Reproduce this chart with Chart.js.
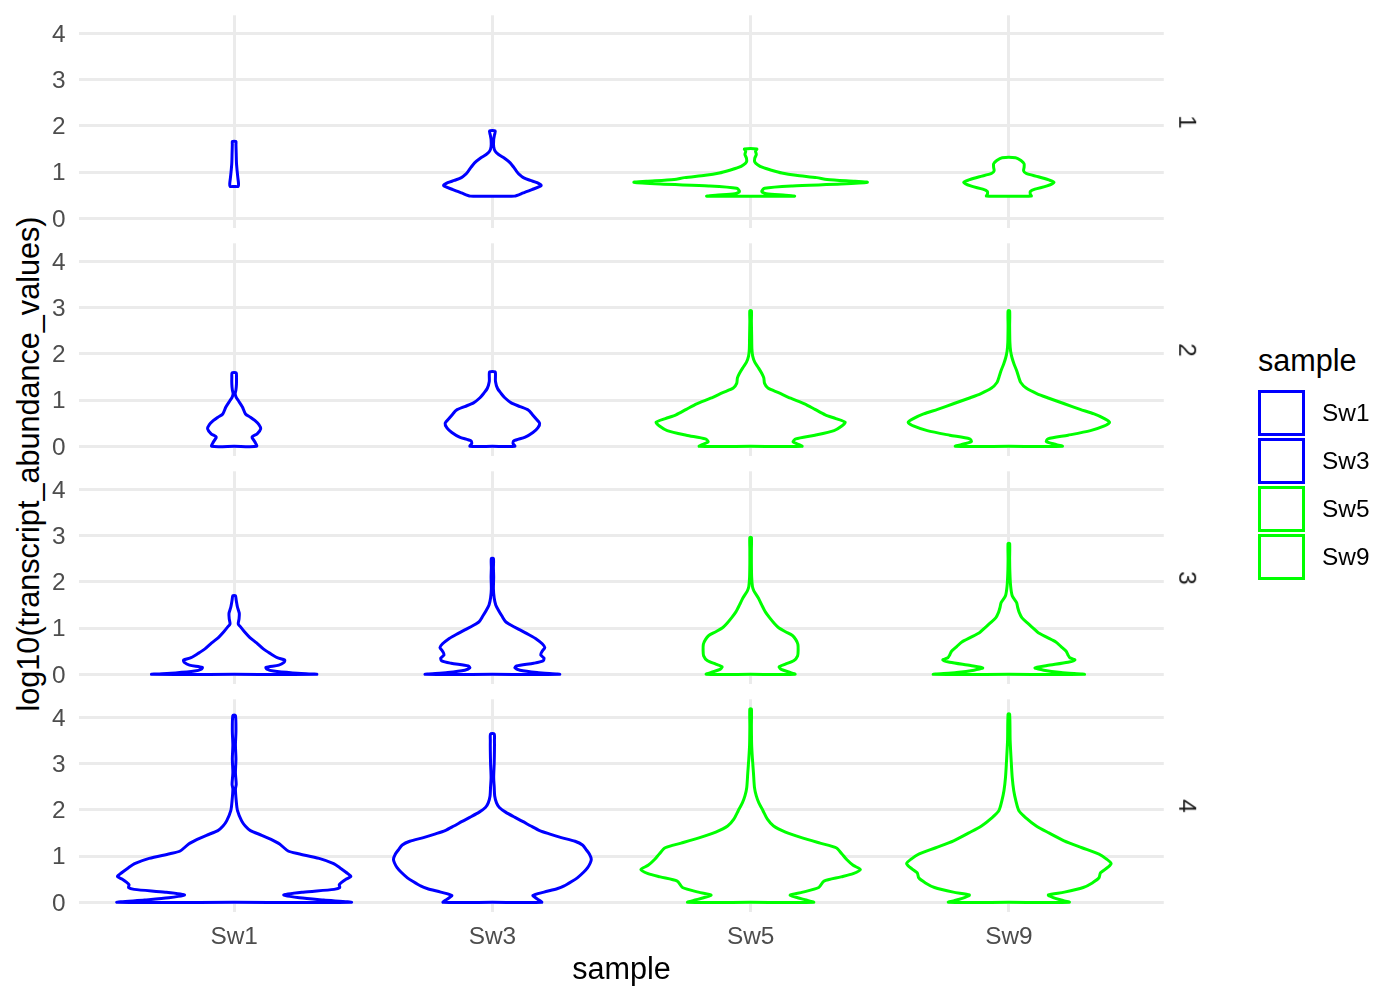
<!DOCTYPE html>
<html>
<head>
<meta charset="utf-8">
<title>violin</title>
<script src="https://cdn.jsdelivr.net/npm/chart.js@4.4.1/dist/chart.umd.min.js"></script>
<style>
  html, body { margin: 0; padding: 0; background: #fff; }
  body { width: 1400px; height: 1000px; position: relative; overflow: hidden; font-family: "Liberation Sans", Arial, sans-serif; }
  .panel { position: absolute; left: 0; width: 1400px; }
  .strip { position: absolute; left: 1187px; transform: translate(-50%, -50%) rotate(90deg); font-size: 24.4px; color: #1a1a1a; line-height: 1; }
  #ytitle { position: absolute; left: 28px; top: 463.6px; transform: translate(-50%, -50%) rotate(-90deg); font-size: 30.6px; white-space: nowrap; line-height: 1; }
  #legtitle { position: absolute; left: 1258px; top: 345px; font-size: 30.6px; line-height: 1; }
  .key { position: absolute; left: 1258px; width: 47px; height: 46px; box-sizing: border-box; border: 3px solid; background: #fff; }
  .keylab { position: absolute; left: 1322px; font-size: 24.4px; line-height: 1; transform: translateY(-50%); }
</style>
</head>
<body>
<div id="ytitle">log10(transcript_abundance_values)</div>
<div id="legtitle">sample</div>
<script>
// kategori sumbu x dan label facet
const categories = ['Sw1', 'Sw3', 'Sw5', 'Sw9'];
const facets = ['1', '2', '3', '4'];
const yMajor = [0, 1, 2, 3, 4];
const sampleColors = ['#0000FF', '#0000FF', '#00FF00', '#00FF00'];

// profil violin: y = log10 nilai, w = setengah lebar (satuan sumbu x)
// facet 1
const p1Sw1Y = [0.69, 0.75, 0.85, 1.0, 1.2, 1.4, 1.6, 1.66];
const p1Sw1W = [0.016, 0.017, 0.015, 0.012, 0.009, 0.008, 0.007, 0.007];
const p1Sw3Y = [0.48, 0.55, 0.62, 0.71, 0.77, 0.82, 0.88, 0.95, 1.0, 1.1, 1.2, 1.3, 1.38, 1.45, 1.55, 1.7, 1.8, 1.89];
const p1Sw3W = [0.085, 0.12, 0.153, 0.189, 0.173, 0.147, 0.12, 0.104, 0.096, 0.083, 0.069, 0.047, 0.024, 0.011, 0.005, 0.005, 0.008, 0.011];
const p1Sw5Y = [0.48, 0.50, 0.53, 0.58, 0.65, 0.70, 0.74, 0.78, 0.80, 0.84, 0.88, 0.93, 0.98, 1.04, 1.10, 1.16, 1.22, 1.30, 1.38, 1.45, 1.50];
const p1Sw5W = [0.17, 0.135, 0.061, 0.043, 0.054, 0.162, 0.35, 0.452, 0.404, 0.296, 0.256, 0.175, 0.121, 0.081, 0.047, 0.027, 0.016, 0.016, 0.022, 0.019, 0.024];
const p1Sw9Y = [0.48, 0.52, 0.58, 0.63, 0.70, 0.78, 0.83, 0.90, 0.97, 1.03, 1.10, 1.18, 1.25, 1.31];
const p1Sw9W = [0.087, 0.083, 0.083, 0.101, 0.148, 0.175, 0.155, 0.114, 0.067, 0.057, 0.059, 0.059, 0.047, 0.026];
// facet 2
const p2Sw1Y = [0, 0.1, 0.2, 0.27, 0.38, 0.47, 0.56, 0.63, 0.70, 0.85, 0.99, 1.06, 1.14, 1.22, 1.35, 1.5, 1.59];
const p2Sw1W = [0.087, 0.08, 0.069, 0.089, 0.103, 0.096, 0.08, 0.063, 0.044, 0.032, 0.016, 0.008, 0.004, 0.007, 0.009, 0.009, 0.008];
const p2Sw3Y = [0, 0.06, 0.12, 0.20, 0.30, 0.40, 0.50, 0.60, 0.70, 0.78, 0.86, 0.94, 1.05, 1.15, 1.25, 1.40, 1.55, 1.61];
const p2Sw3W = [0.087, 0.08, 0.083, 0.127, 0.157, 0.176, 0.183, 0.168, 0.153, 0.14, 0.107, 0.073, 0.048, 0.033, 0.02, 0.012, 0.012, 0.011];
const p2Sw5Y = [0, 0.05, 0.10, 0.16, 0.24, 0.34, 0.44, 0.52, 0.60, 0.68, 0.80, 0.92, 1.04, 1.16, 1.26, 1.36, 1.48, 1.58, 1.70, 1.82, 1.95, 2.10, 2.40, 2.70, 2.93];
const p2Sw5W = [0.199, 0.182, 0.164, 0.175, 0.249, 0.323, 0.353, 0.366, 0.33, 0.289, 0.249, 0.209, 0.155, 0.108, 0.067, 0.054, 0.051, 0.043, 0.03, 0.016, 0.008, 0.005, 0.004, 0.003, 0.003];
const p2Sw9Y = [0, 0.05, 0.10, 0.16, 0.24, 0.34, 0.44, 0.52, 0.60, 0.70, 0.80, 0.92, 1.04, 1.14, 1.26, 1.38, 1.50, 1.64, 1.78, 1.92, 2.05, 2.25, 2.60, 2.93];
const p2Sw9W = [0.207, 0.175, 0.145, 0.151, 0.229, 0.316, 0.37, 0.39, 0.37, 0.33, 0.276, 0.215, 0.155, 0.108, 0.067, 0.046, 0.038, 0.03, 0.02, 0.012, 0.007, 0.004, 0.003, 0.003];
// facet 3
const p3Sw1Y = [0, 0.03, 0.07, 0.11, 0.15, 0.20, 0.26, 0.31, 0.36, 0.45, 0.55, 0.68, 0.80, 0.92, 1.03, 1.09, 1.20, 1.32, 1.45, 1.60, 1.70];
const p3Sw1W = [0.319, 0.227, 0.153, 0.127, 0.123, 0.173, 0.193, 0.196, 0.167, 0.14, 0.113, 0.087, 0.06, 0.04, 0.024, 0.016, 0.019, 0.02, 0.013, 0.008, 0.005];
const p3Sw3Y = [0, 0.04, 0.09, 0.14, 0.18, 0.24, 0.29, 0.35, 0.42, 0.50, 0.58, 0.66, 0.76, 0.86, 0.96, 1.06, 1.14, 1.26, 1.38, 1.50, 1.65, 1.85, 2.10, 2.30, 2.50];
const p3Sw3W = [0.26, 0.173, 0.107, 0.087, 0.093, 0.16, 0.196, 0.2, 0.187, 0.193, 0.203, 0.193, 0.171, 0.14, 0.107, 0.073, 0.051, 0.037, 0.024, 0.013, 0.007, 0.004, 0.005, 0.004, 0.004];
const p3Sw5Y = [0, 0.05, 0.10, 0.16, 0.22, 0.30, 0.40, 0.52, 0.65, 0.75, 0.84, 0.92, 1.00, 1.10, 1.22, 1.35, 1.50, 1.65, 1.80, 1.90, 2.10, 2.40, 2.70, 2.96];
const p3Sw5W = [0.172, 0.148, 0.121, 0.11, 0.135, 0.168, 0.182, 0.184, 0.183, 0.175, 0.162, 0.135, 0.11, 0.092, 0.074, 0.057, 0.043, 0.03, 0.013, 0.007, 0.004, 0.003, 0.003, 0.003];
const p3Sw9Y = [0, 0.04, 0.09, 0.14, 0.19, 0.26, 0.31, 0.36, 0.42, 0.50, 0.60, 0.70, 0.80, 0.90, 1.00, 1.10, 1.22, 1.34, 1.45, 1.55, 1.70, 1.90, 2.20, 2.50, 2.83];
const p3Sw9W = [0.292, 0.202, 0.135, 0.101, 0.148, 0.229, 0.256, 0.236, 0.229, 0.222, 0.202, 0.182, 0.148, 0.114, 0.094, 0.074, 0.051, 0.04, 0.034, 0.03, 0.013, 0.007, 0.004, 0.003, 0.003];
// facet 4
const p4Sw1Y = [0, 0.05, 0.10, 0.16, 0.22, 0.28, 0.32, 0.38, 0.43, 0.50, 0.56, 0.65, 0.75, 0.84, 0.95, 1.05, 1.11, 1.26, 1.36, 1.45, 1.55, 1.65, 1.76, 1.98, 2.20, 2.45, 2.55, 2.80, 3.10, 3.40, 3.70, 4.04];
const p4Sw1W = [0.453, 0.347, 0.253, 0.192, 0.267, 0.387, 0.409, 0.407, 0.416, 0.433, 0.452, 0.433, 0.409, 0.383, 0.329, 0.249, 0.209, 0.176, 0.143, 0.107, 0.063, 0.043, 0.029, 0.013, 0.008, 0.005, 0.008, 0.005, 0.007, 0.005, 0.007, 0.005];
const p4Sw3Y = [0, 0.05, 0.10, 0.15, 0.22, 0.30, 0.35, 0.45, 0.53, 0.65, 0.75, 0.85, 0.93, 1.04, 1.14, 1.24, 1.32, 1.40, 1.48, 1.55, 1.65, 1.75, 1.85, 1.95, 2.05, 2.15, 2.30, 2.50, 2.70, 3.00, 3.30, 3.50, 3.64];
const p4Sw3W = [0.191, 0.18, 0.167, 0.157, 0.2, 0.253, 0.276, 0.307, 0.329, 0.353, 0.369, 0.379, 0.383, 0.376, 0.363, 0.349, 0.32, 0.267, 0.22, 0.183, 0.149, 0.117, 0.083, 0.051, 0.027, 0.016, 0.009, 0.007, 0.005, 0.007, 0.008, 0.008, 0.007];
const p4Sw5Y = [0, 0.05, 0.10, 0.16, 0.22, 0.32, 0.46, 0.55, 0.62, 0.71, 0.80, 0.93, 1.05, 1.18, 1.28, 1.40, 1.52, 1.65, 1.80, 1.98, 2.15, 2.30, 2.48, 2.80, 3.10, 3.40, 3.80, 4.18];
const p4Sw5W = [0.244, 0.215, 0.182, 0.153, 0.202, 0.264, 0.284, 0.35, 0.397, 0.425, 0.397, 0.371, 0.353, 0.331, 0.269, 0.197, 0.135, 0.089, 0.065, 0.048, 0.032, 0.022, 0.015, 0.011, 0.007, 0.004, 0.003, 0.003];
const p4Sw9Y = [0, 0.05, 0.10, 0.16, 0.22, 0.32, 0.42, 0.53, 0.64, 0.76, 0.84, 0.94, 1.04, 1.18, 1.33, 1.50, 1.65, 1.82, 1.98, 2.20, 2.41, 2.70, 3.06, 3.50, 4.07];
const p4Sw9W = [0.234, 0.202, 0.172, 0.153, 0.215, 0.288, 0.323, 0.349, 0.355, 0.384, 0.396, 0.377, 0.349, 0.283, 0.214, 0.155, 0.106, 0.067, 0.039, 0.027, 0.019, 0.013, 0.009, 0.005, 0.003];

const violinTable = [
    [[p1Sw1Y, p1Sw1W], [p1Sw3Y, p1Sw3W], [p1Sw5Y, p1Sw5W], [p1Sw9Y, p1Sw9W]],
    [[p2Sw1Y, p2Sw1W], [p2Sw3Y, p2Sw3W], [p2Sw5Y, p2Sw5W], [p2Sw9Y, p2Sw9W]],
    [[p3Sw1Y, p3Sw1W], [p3Sw3Y, p3Sw3W], [p3Sw5Y, p3Sw5W], [p3Sw9Y, p3Sw9W]],
    [[p4Sw1Y, p4Sw1W], [p4Sw3Y, p4Sw3W], [p4Sw5Y, p4Sw5W], [p4Sw9Y, p4Sw9W]],
];

const fontFamily = '"Liberation Sans", Arial, sans-serif';

// garis tepi violin: dasar -> sisi kanan naik -> sisi kiri turun
function outline(center, ys, ws) {
    const right = ys.map((y, i) => ({ x: center + ws[i], y: y }));
    const left = ys.map((y, i) => ({ x: center - ws[i], y: y })).reverse();
    return [{ x: center, y: ys[0] }, ...right, ...left, { x: center, y: ys[0] }];
}

function buatPanel(idx) {
    const isLast = idx === facets.length - 1;
    const top = 228 * idx - 25;
    const height = isLast ? 1000 - top : 300;

    const box = document.createElement('div');
    box.className = 'panel';
    box.style.top = top + 'px';
    box.style.height = height + 'px';
    const canvas = document.createElement('canvas');
    box.appendChild(canvas);
    document.body.appendChild(box);

    const strip = document.createElement('div');
    strip.className = 'strip';
    strip.style.top = (121.7 + 228 * idx) + 'px';
    strip.textContent = facets[idx];
    document.body.appendChild(strip);

    new Chart(canvas.getContext('2d'), {
        type: 'scatter',
        data: {
            datasets: categories.map((c, j) => ({
                label: c,
                data: outline(j + 1, violinTable[idx][j][0], violinTable[idx][j][1]),
                showLine: true,
                pointRadius: 0,
                borderColor: sampleColors[j],
                borderWidth: 3,
                borderJoinStyle: 'round',
                backgroundColor: '#FFFFFF',
                fill: 'shape',
                tension: 0.25
            }))
        },
        options: {
            responsive: true,
            maintainAspectRatio: false,
            animation: false,
            events: [],
            layout: { padding: { left: 0, right: 236.2, top: 40.3, bottom: isLast ? 0 : 47 } },
            plugins: { legend: { display: false }, tooltip: { enabled: false } },
            scales: {
                x: {
                    type: 'linear',
                    min: 0.4,
                    max: 4.6,
                    afterBuildTicks: s => { s.ticks = categories.map((c, i) => ({ value: i + 1 })); },
                    afterFit: s => { s.height = isLast ? 88 : 0; },
                    grid: { color: '#EBEBEB', lineWidth: 3, drawTicks: false },
                    border: { display: false },
                    ticks: {
                        display: isLast,
                        autoSkip: false,
                        maxRotation: 0,
                        padding: 10.6,
                        color: '#4D4D4D',
                        font: { size: 24.4, family: fontFamily },
                        callback: v => categories[Math.round(v) - 1] || ''
                    },
                    title: {
                        display: isLast,
                        text: 'sample',
                        color: '#000000',
                        font: { size: 30.6, family: fontFamily },
                        padding: { top: 0, bottom: 10.6 }
                    }
                },
                y: {
                    min: -0.209,
                    max: 4.389,
                    afterBuildTicks: s => {
                        const t = [];
                        yMajor.forEach((v, i) => {
                            t.push({ value: v });
                            if (i < yMajor.length - 1) t.push({ value: (v + yMajor[i + 1]) / 2 });
                        });
                        s.ticks = t;
                    },
                    afterFit: s => { s.width = 79.2; },
                    grid: {
                        color: '#EBEBEB',
                        drawTicks: false,
                        lineWidth: ctx => (yMajor.includes(ctx.tick.value) ? 3 : 1.5)
                    },
                    border: { display: false },
                    ticks: {
                        padding: 13.6,
                        labelOffset: 1.5,
                        color: '#4D4D4D',
                        font: { size: 24.4, family: fontFamily },
                        callback: v => (yMajor.includes(v) ? String(v) : '')
                    }
                }
            }
        }
    });
}

function buatLegend() {
    categories.forEach((c, i) => {
        const cellTop = 389.5 + 48.3 * i;
        const key = document.createElement('div');
        key.className = 'key';
        key.style.top = cellTop + 'px';
        key.style.borderColor = sampleColors[i];
        document.body.appendChild(key);
        const lab = document.createElement('div');
        lab.className = 'keylab';
        lab.style.top = (cellTop + 23) + 'px';
        lab.textContent = c;
        document.body.appendChild(lab);
    });
}

facets.forEach((f, i) => buatPanel(i));
buatLegend();
</script>
</body>
</html>
